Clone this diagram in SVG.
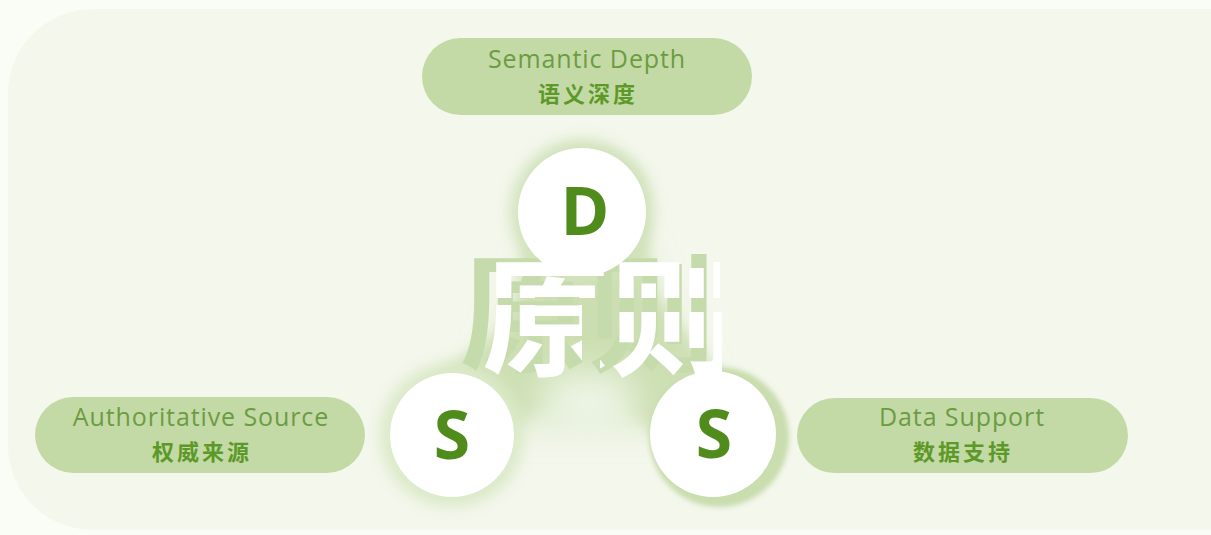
<svg xmlns="http://www.w3.org/2000/svg" width="1211" height="535" viewBox="0 0 1211 535">
<defs>
<style>
.pill{fill:#c4daa6;}
.en{font-family:"Open Sans","Noto Sans","Liberation Sans",sans-serif;font-size:25px;fill:#6c9c42;text-anchor:middle;letter-spacing:0.9px;}
.zh{font-family:"Noto Sans CJK SC","Noto Sans",sans-serif;font-size:22px;font-weight:bold;fill:#5c9928;text-anchor:middle;letter-spacing:3px;}
.disc{fill:#ffffff;}
.let{font-family:"Open Sans","Noto Sans","Liberation Sans",sans-serif;font-size:66px;font-weight:bold;fill:#4f8c1c;text-anchor:middle;}
.big{font-family:"Noto Sans CJK SC",sans-serif;font-size:128px;font-weight:bold;text-anchor:middle;}
</style>
<filter id="blur20" x="-50%" y="-50%" width="200%" height="200%"><feGaussianBlur stdDeviation="18"/></filter>
<filter id="blur8" x="-50%" y="-50%" width="200%" height="200%"><feGaussianBlur stdDeviation="7"/></filter>
<filter id="blur3" x="-50%" y="-50%" width="200%" height="200%"><feGaussianBlur stdDeviation="2.5"/></filter>
<filter id="glitch" filterUnits="userSpaceOnUse" primitiveUnits="userSpaceOnUse" x="400" y="200" width="400" height="220">
<feOffset in="SourceAlpha" dx="22" dy="4" result="off"/>
<feFlood flood-color="#ffffff" x="470" y="262" width="250" height="36" result="b1"/>
<feFlood flood-color="#ffffff" x="460" y="305" width="122" height="85" result="b2"/>
<feFlood flood-color="#ffffff" x="600" y="312" width="122" height="80" result="b3"/>
<feMerge result="bands"><feMergeNode in="b1"/><feMergeNode in="b2"/><feMergeNode in="b3"/></feMerge>
<feComposite in="bands" in2="off" operator="in" result="white"/>
<feMerge><feMergeNode in="SourceGraphic"/><feMergeNode in="white"/></feMerge>
</filter>
</defs>
<rect x="0" y="0" width="1211" height="535" fill="#fafcf6"/>
<rect x="8" y="9" width="1290" height="521" rx="85" fill="#f3f7ec"/>

<g id="connectors">
<path d="M 585 160 L 470 420 L 715 420 Z" fill="#d3e4bd" filter="url(#blur20)"/>
<path d="M 532 195 Q 532 150 582 148 Q 642 150 644 200 L 650 290 L 700 350 L 740 400 L 700 470 L 660 440 L 620 400 L 560 400 L 500 430 L 430 380 L 500 330 L 520 290 Z" fill="#cbdeb0" filter="url(#blur8)" opacity="0.85"/>
<ellipse cx="588" cy="400" rx="50" ry="30" fill="#eef5e6" filter="url(#blur20)"/>
<circle cx="582" cy="212" r="72" fill="#d3e3bd" filter="url(#blur8)"/>
<circle cx="452" cy="435" r="72" fill="#dbe9c8" filter="url(#blur8)"/>
<circle cx="719" cy="437" r="70" fill="#c9ddae" filter="url(#blur3)"/>
</g>

<g id="title-glyph">
<text class="big" x="588" y="362" fill="#c6dbab" filter="url(#glitch)">原则</text>
</g>

<g id="node-d">
<circle class="disc" cx="582" cy="212" r="64"/>
<text class="let" x="585" y="235">D</text>
</g>
<g id="node-s-left">
<circle class="disc" cx="452" cy="435" r="62"/>
<text class="let" x="452" y="459">S</text>
</g>
<g id="node-s-right">
<circle class="disc" cx="713" cy="434" r="63"/>
<text class="let" x="714" y="458">S</text>
</g>

<g id="label-semantic">
<rect class="pill" x="422" y="38" width="330" height="77" rx="38.5"/>
<text class="en" x="587" y="68">Semantic Depth</text>
<text class="zh" x="588" y="102">语义深度</text>
</g>
<g id="label-authoritative">
<rect class="pill" x="35" y="397" width="330" height="76" rx="38"/>
<text class="en" x="201" y="426">Authoritative Source</text>
<text class="zh" x="202" y="460">权威来源</text>
</g>
<g id="label-data">
<rect class="pill" x="797" y="398" width="331" height="75" rx="37.5"/>
<text class="en" x="962" y="426">Data Support</text>
<text class="zh" x="963" y="460">数据支持</text>
</g>
</svg>
